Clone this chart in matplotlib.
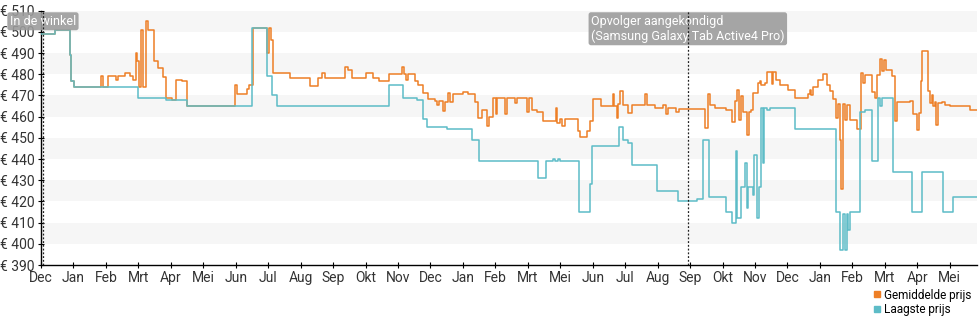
import matplotlib.pyplot as plt
from matplotlib.lines import Line2D

plt.rcParams['font.family'] = ['Roboto', 'DejaVu Sans']

# maandlabels onder de x-as (1 tick per maand, Apr valt er in het tweede jaar uit)
maanden = ['Dec', 'Jan', 'Feb', 'Mrt', 'Apr', 'Mei', 'Jun', 'Jul', 'Aug', 'Sep',
           'Okt', 'Nov', 'Dec', 'Jan', 'Feb', 'Mrt', 'Mei', 'Jun', 'Jul', 'Aug',
           'Sep', 'Okt', 'Nov', 'Dec', 'Jan', 'Feb', 'Mrt', 'Apr', 'Mei']

# laagste prijs: x in maanden vanaf de eerste tick, prijs geldt tot het volgende punt
laagste_x = [0, 0.43, 0.88, 0.91, 1.02, 3.00, 3.85, 4.50, 6.49, 6.96, 7.12, 7.26,
             10.71, 11.14, 11.58, 11.77, 11.89, 12.50, 13.27, 13.49, 15.32, 15.55,
             15.77, 15.84, 15.93, 15.99, 16.58, 16.91, 16.99, 17.82, 17.92, 18.08,
             18.20, 18.97, 19.63, 20.20, 20.39, 20.59, 21.12, 21.28, 21.41, 21.44,
             21.57, 21.69, 21.74, 21.78, 21.94, 21.97, 22.05, 22.13, 22.17, 22.26,
             22.29, 22.36, 22.46, 23.23, 24.51, 24.62, 24.71, 24.77, 24.82, 24.88,
             24.92, 25.23, 25.39, 25.59, 25.78, 25.85, 25.91, 26.24, 26.85, 27.13,
             27.78, 28.11, 28.84]
laagste_prijs = [499, 501, 489, 477, 474, 469, 468, 465, 502, 479, 470, 465,
                 475, 469, 468, 459, 455, 454, 449, 439, 431, 439,
                 440, 439, 440, 439, 415, 428, 446, 455, 449, 447.5,
                 437, 425, 420, 421, 449, 422, 415, 410, 444, 412,
                 427, 438, 417, 427, 423, 442, 412, 427, 464, 438,
                 464, 463, 464, 454, 415, 397, 414, 397, 414, 406.5,
                 415, 462, 463, 439, 469, 465, 469, 434, 415, 434,
                 415, 422, 422]

# gemiddelde prijs
gemiddeld_x = [0, 0.43, 0.88, 0.91, 1.02, 1.85, 1.91, 2.07, 2.31, 2.37, 2.59, 2.74,
               2.83, 2.93, 2.97, 3.03, 3.07, 3.13, 3.24, 3.31, 3.48, 3.62, 3.77, 3.85,
               4.03, 4.16, 4.34, 4.51, 5.98, 6.05, 6.34, 6.42, 6.52, 6.97, 7.01, 7.08,
               7.16, 7.67, 8.29, 8.54, 8.65, 8.75, 9.37, 9.47, 9.57, 10.01, 10.24, 10.42,
               10.73, 11.11, 11.17, 11.25, 11.32, 11.52, 11.62, 11.78, 11.93, 12.14, 12.20, 12.26,
               12.39, 12.45, 12.55, 12.60, 12.68, 13.01, 13.16, 13.37, 13.47, 13.58, 13.73, 13.81,
               13.93, 14.02, 14.06, 14.30, 14.37, 14.60, 14.66, 14.96, 15.04, 15.13, 15.27, 15.47,
               15.86, 15.90, 15.99, 16.05, 16.14, 16.55, 16.61, 16.81, 16.91, 17.02, 17.24, 17.61,
               17.65, 17.74, 17.79, 17.84, 17.94, 18.09, 18.20, 18.61, 18.66, 18.92, 19.15, 19.25,
               19.33, 19.58, 19.66, 20.46, 20.56, 20.61, 20.76, 21.12, 21.28, 21.38, 21.43, 21.50,
               21.57, 21.64, 21.76, 21.82, 21.87, 21.94, 22.10, 22.15, 22.20, 22.30, 22.36, 22.51,
               22.56, 22.64, 22.77, 23.02, 23.23, 23.64, 23.69, 23.74, 23.79, 23.95, 24.10, 24.22,
               24.31, 24.41, 24.51, 24.56, 24.62, 24.66, 24.72, 24.77, 24.82, 24.92, 25.13, 25.28,
               25.33, 25.39, 25.59, 25.69, 25.77, 25.85, 25.90, 25.97, 26.03, 26.21, 26.31, 26.36,
               26.77, 26.87, 26.98, 27.06, 27.11, 27.16, 27.34, 27.39, 27.44, 27.49, 27.54, 27.59,
               27.64, 27.75, 27.85, 28.00, 28.62, 28.84]
gemiddeld_prijs = [499, 501, 489, 477, 474, 479, 474, 479, 477.5, 479, 480.5, 479,
                   477.5, 490, 486, 474, 501, 474, 505, 501, 486, 483, 478.5, 469,
                   468, 477.5, 477, 465, 475, 470.5, 473, 475, 502, 490, 502, 496,
                   480.5, 478, 474.5, 478, 480.5, 478, 483.5, 482, 478, 480.5, 478, 477,
                   480, 483.5, 480, 477.5, 480, 477, 475, 471, 468.5, 467.5, 465.5, 467.5,
                   462.5, 467, 471, 467, 470.5, 471.5, 470.5, 467, 459.5, 463, 455.5, 460,
                   469, 461, 469, 461, 469, 466.5, 469, 462, 469, 463, 462, 458,
                   464, 457, 459, 455.5, 459, 453, 450.5, 453, 458, 468.5, 465, 470.5,
                   465, 459.5, 466, 472, 465.5, 461.5, 465.5, 470.5, 465.5, 464, 465.5, 461,
                   464, 462, 463.5, 454.5, 470.5, 465.5, 464, 463, 457.5, 467.5, 472.5, 458.5,
                   469.5, 462, 451.5, 462, 463, 471, 476, 477, 475, 476, 481, 475.5,
                   481, 477.5, 475, 472.5, 469, 470.5, 472.5, 470, 474, 477.5, 480, 475,
                   472, 468.5, 459.5, 466, 449, 426, 466, 458.5, 465.5, 458.5, 454, 480.5,
                   476, 479.5, 471.5, 469, 479.5, 487, 481.5, 486.5, 482, 479, 458, 467,
                   467.5, 461, 453.5, 461.5, 477, 491, 472, 466.5, 470, 465, 467, 456,
                   466.5, 467, 465.5, 465, 463, 463]

# gebeurtenissen met stippellijn en label
events_x = [0.06, 19.93]
events_tekst = ['In de winkel', 'Opvolger aangekondigd\n(Samsung Galaxy Tab Active4 Pro)']

oranje = '#ee7f26'
blauw = '#5dbcc7'

fig = plt.figure(figsize=(9.8, 3.25), dpi=100)
ax = fig.add_axes([41 / 980, 60 / 325, 936 / 980, 254.4 / 325])

# lichtgrijze banden om de 10 euro
for lo in range(400, 510, 20):
    ax.axhspan(lo, lo + 10, color='#f6f6f6', lw=0, zorder=0)

ax.step(gemiddeld_x, gemiddeld_prijs, where='post', color=oranje, lw=1.1, zorder=2)
ax.step(laagste_x, laagste_prijs, where='post', color=blauw, lw=1.1, zorder=3)

for x, tekst in zip(events_x, events_tekst):
    ax.axvline(x, color='#222222', lw=0.9, ls=(0, (1.5, 1.5)), zorder=6)
    ax.annotate(tekst, xy=(x, 1), xycoords=('data', 'axes fraction'),
                xytext=(0, -3), textcoords='offset points', ha='center', va='top',
                multialignment='left', color='white', fontsize=9, linespacing=1.15,
                annotation_clip=False,
                bbox=dict(boxstyle='round,pad=0.2', fc='#9c9c9c', ec='none', alpha=0.9),
                zorder=5)

ax.set_xlim(0, 28.84)
ax.set_ylim(390, 510)
ax.set_xticks(range(len(maanden)))
ax.set_xticklabels(maanden)
ax.set_yticks(range(390, 511, 10))
ax.set_yticklabels(['€ %d' % v for v in range(390, 511, 10)])
ax.tick_params(direction='inout', length=5, width=0.8, labelsize=10,
               labelcolor='#333333', pad=2)

for kant in ['top', 'right']:
    ax.spines[kant].set_visible(False)
for kant in ['left', 'bottom']:
    ax.spines[kant].set_color('black')
    ax.spines[kant].set_linewidth(1)

handles = [Line2D([], [], marker='s', ls='none', color=oranje, markersize=5),
           Line2D([], [], marker='s', ls='none', color=blauw, markersize=5)]
fig.legend(handles, ['Gemiddelde prijs', 'Laagste prijs'], loc='upper left',
           bbox_to_anchor=(0.892, 0.112), frameon=False, fontsize=8.5,
           handlelength=0.5, handletextpad=0.3, labelspacing=0.15,
           borderpad=0, borderaxespad=0)

fig.savefig('out.png', dpi=100)
